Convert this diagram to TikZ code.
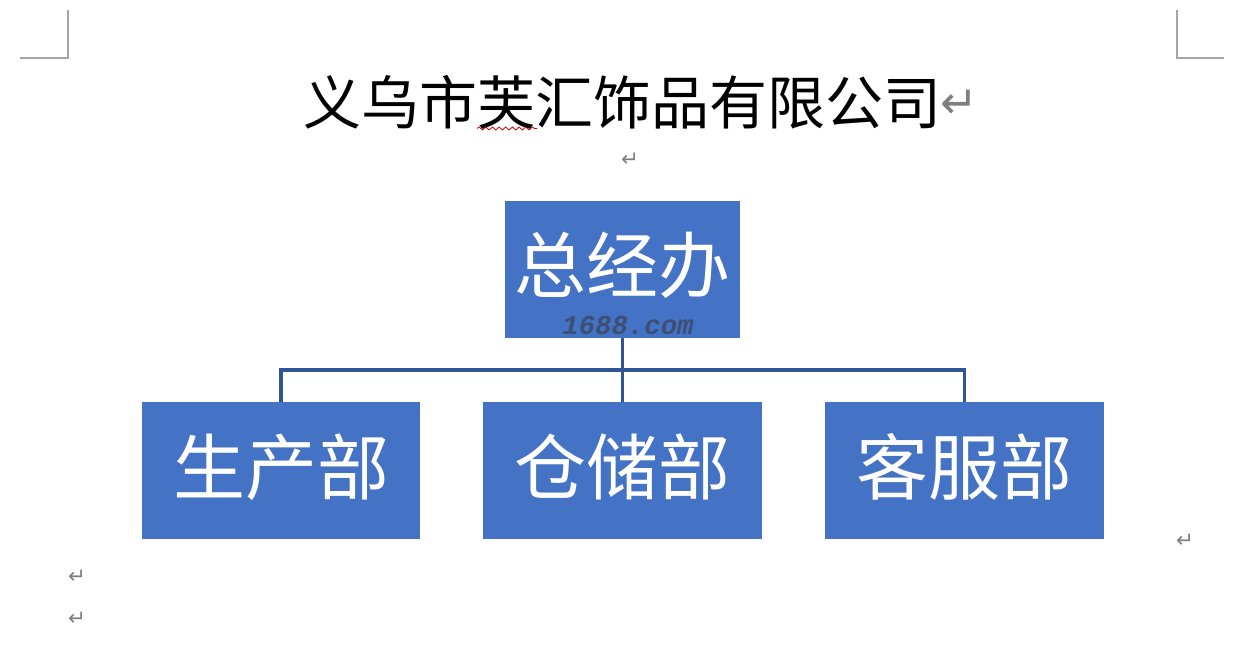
\documentclass[tikz,border=0pt]{standalone}
\usepackage{fontspec}
\setmainfont{Noto Sans CJK SC}
\newfontfamily\cjk{Noto Sans CJK SC}
\newfontfamily\symfont{DejaVu Sans}
\newfontfamily\wmfont{Liberation Mono}
\usetikzlibrary{decorations.pathmorphing}
\definecolor{boxblue}{HTML}{4472C4}
\definecolor{linkblue}{HTML}{2F5597}
\definecolor{markgray}{HTML}{7F7F7F}
\definecolor{wmcol}{HTML}{3B4A66}
\tikzset{
  orgbox/.style={fill=boxblue, draw=none, inner sep=0pt, text=white,
    font=\cjk\fontsize{54}{54}\selectfont},
  link/.style={draw=linkblue, line width=2.3pt},
  cornermark/.style={draw=markgray!70, line width=0.9pt},
  retmark/.style={text=markgray, inner sep=0pt, font=\symfont\fontsize{16}{16}\selectfont},
}
\begin{document}
\begin{tikzpicture}[x=0.75pt,y=-0.75pt]
\useasboundingbox[fill=white] (0,0) rectangle (1257,649);
% corner marks
\draw[cornermark] (68,10) -- (68,58) -- (20,58);
\draw[cornermark] (1177,10) -- (1177,58) -- (1224,58);
% title
\node[inner sep=0pt, font=\cjk\fontsize{43.5}{43.5}\selectfont] (title) at (622,102) {义乌市芙汇饰品有限公司};
\node[retmark, font=\symfont\fontsize{34}{34}\selectfont, anchor=west] (tret) at ([xshift=-1pt,yshift=-2pt]title.east) {↵};
\draw[red!80!black, line width=0.6pt, decorate, decoration={snake, amplitude=1.1pt, segment length=5pt}] (477,128.5) -- (537,128.5);
\node[retmark] (r1) at (630,160) {↵};
% boxes
\node[orgbox, minimum width=176pt, minimum height=103pt] (top) at (622.5,269.5) {};
\node[font=\cjk\fontsize{54}{54}\selectfont, text=white, inner sep=0pt] (toptxt) at (622.5,265) {总经办};
\node[text=wmcol, opacity=0.85, inner sep=0pt, font=\wmfont\itshape\bfseries\fontsize{20.5}{20.5}\selectfont] (wm) at (628,325) {1688.com};
\node[orgbox, minimum width=208.5pt, minimum height=103pt] (left) at (281,470.5) {};
\node[orgbox, minimum width=209pt, minimum height=103pt] (mid) at (622.5,470.5) {};
\node[orgbox, minimum width=209pt, minimum height=103pt] (right) at (964.5,470.5) {};
\node[font=\cjk\fontsize{54}{54}\selectfont, text=white, inner sep=0pt] (lt) at (281,467) {生产部};
\node[font=\cjk\fontsize{54}{54}\selectfont, text=white, inner sep=0pt] (mt) at (622.5,467) {仓储部};
\node[font=\cjk\fontsize{54}{54}\selectfont, text=white, inner sep=0pt] (rt) at (964.5,467) {客服部};
% connectors
\coordinate (bus) at (622.5,370);
\draw[link] (top.south) -- (mid.north);
\draw[link] (left.north) -- (left.north |- bus) -- (right.north |- bus) -- (right.north);
% other return marks
\node[retmark] (r2) at (1185,541) {↵};
\node[retmark] (r3) at (77,577) {↵};
\node[retmark] (r4) at (77,619) {↵};
\end{tikzpicture}
\end{document}
